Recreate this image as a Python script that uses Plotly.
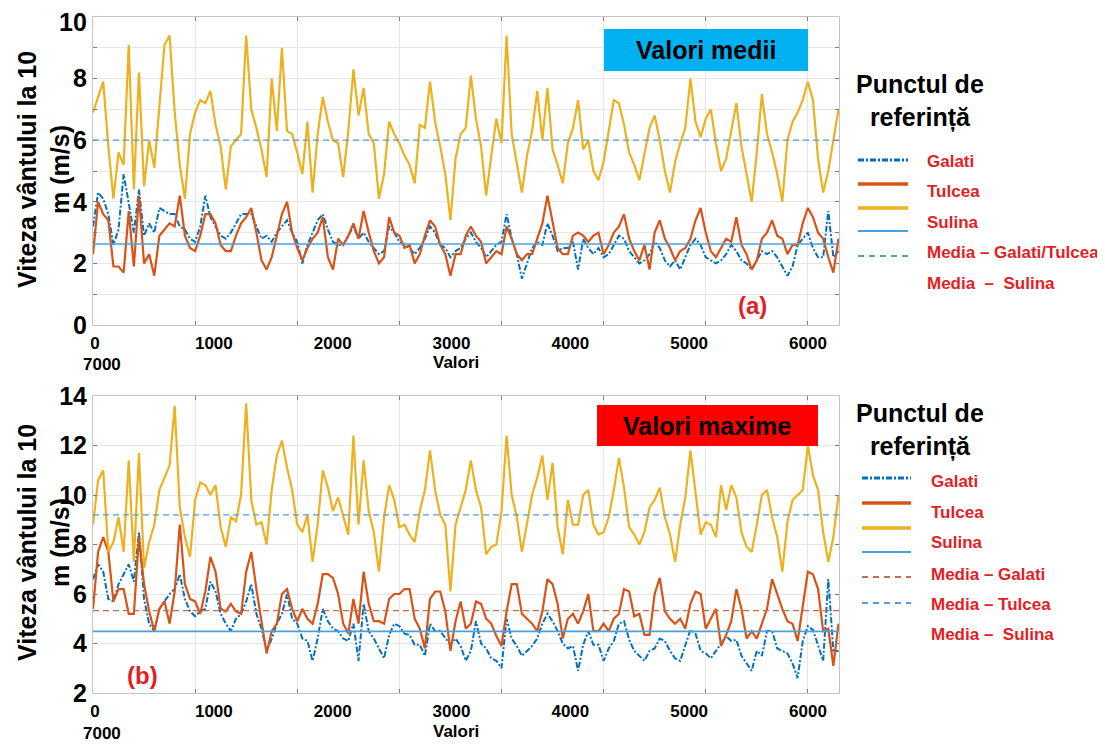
import plotly.graph_objects as go

# sample index (days), one reading every 50 values
DAYS = list(range(0, 7301, 50))

# (a) mean values
GALATI_MED = [
    3.2, 4.3, 4.1, 3.6, 2.6, 3.1, 4.9, 3.9, 3.0, 4.4,
    2.9, 3.3, 3.0, 3.8, 3.7, 3.6, 3.6, 3.2, 3.1, 2.8,
    2.7, 3.2, 4.2, 3.5, 3.2, 2.9, 2.8, 3.0, 3.3, 3.6,
    3.6, 3.6, 3.2, 2.8, 2.9, 2.7, 3.0, 3.2, 3.4, 3.0,
    2.7, 2.0, 2.6, 3.0, 3.4, 3.6, 3.1, 2.7, 2.6, 2.6,
    2.9, 3.2, 2.8, 3.0, 2.7, 2.5, 2.3, 2.4, 3.2, 3.0,
    2.7, 2.6, 2.5, 2.3, 2.5, 2.8, 3.2, 3.0, 2.6, 2.5,
    2.2, 2.4, 2.5, 2.8, 3.0, 2.7, 2.5, 2.2, 2.4, 2.6,
    2.7, 3.6, 2.8, 2.3, 1.5, 2.0, 2.5, 2.7, 2.6, 3.3,
    2.9, 2.4, 2.5, 2.5, 2.7, 1.8, 2.8, 2.5, 2.3, 2.5,
    2.2, 2.3, 2.6, 2.9, 2.8, 2.4, 2.2, 2.0, 2.1, 2.3,
    2.7, 2.5, 2.1, 1.9, 2.1, 1.8, 2.2, 2.6, 2.8, 2.6,
    2.2, 2.1, 2.0, 2.1, 2.3, 2.6, 2.4, 2.1, 2.0, 1.8,
    2.1, 2.4, 2.3, 2.4, 2.2, 1.9, 1.6, 1.9, 2.6, 2.8,
    3.0, 2.5, 2.2, 2.2, 3.7, 2.2, 2.4,
]
TULCEA_MED = [
    2.3, 4.0, 3.6, 3.4, 1.9, 1.9, 1.7, 3.7, 1.9, 4.2,
    2.0, 2.3, 1.6, 2.9, 3.1, 3.3, 3.2, 4.2, 2.9, 2.5,
    2.4, 2.9, 3.6, 3.6, 3.3, 2.6, 2.4, 2.4, 2.9, 3.3,
    3.5, 3.8, 3.0, 2.1, 1.8, 2.2, 2.9, 3.6, 4.0, 3.0,
    2.5, 2.1, 2.5, 2.8, 3.0, 3.5, 2.2, 1.8, 2.8, 2.6,
    2.9, 3.3, 2.8, 3.7, 3.0, 2.4, 2.0, 2.2, 3.5, 3.0,
    2.9, 2.5, 2.6, 2.0, 2.3, 2.9, 3.4, 3.2, 2.6, 2.3,
    1.6, 2.3, 2.3, 2.9, 3.2, 2.9, 2.7, 2.0, 2.2, 2.4,
    2.3, 3.2, 2.8, 2.3, 2.1, 2.3, 2.3, 2.8, 3.3, 4.2,
    3.4, 2.5, 2.3, 2.3, 2.9, 3.0, 2.9, 2.7, 2.9, 3.0,
    2.3, 2.6, 3.0, 3.2, 3.6, 2.8, 2.4, 2.1, 2.6, 1.8,
    3.0, 3.4, 2.8, 2.5, 2.1, 2.4, 2.5, 2.8, 3.4, 3.8,
    3.0, 2.4, 2.2, 2.5, 2.8, 2.7, 3.5, 2.6, 2.3, 1.8,
    2.1, 2.8, 3.0, 3.4, 2.9, 2.8, 2.3, 2.6, 2.6, 3.3,
    3.8, 3.5, 3.0, 2.8, 2.2, 1.7, 2.8,
]
SULINA_MED = [
    6.9, 7.4, 7.9, 5.8, 4.1, 5.6, 5.2, 9.1, 4.4, 8.2,
    4.5, 6.0, 5.1, 7.1, 9.1, 9.4, 6.9, 5.2, 4.1, 6.2,
    6.9, 7.3, 7.2, 7.6, 6.5, 5.8, 4.4, 5.8, 6.0, 6.2,
    9.4, 7.0, 6.4, 5.7, 4.8, 8.0, 6.3, 9.0, 6.3, 6.2,
    5.6, 4.9, 6.6, 4.3, 6.2, 7.4, 6.6, 6.0, 5.9, 4.8,
    6.3, 8.3, 6.8, 7.7, 6.2, 5.9, 4.1, 4.9, 6.6, 6.2,
    5.9, 5.5, 5.2, 4.6, 6.5, 6.4, 7.9, 6.6, 5.8, 4.9,
    3.4, 5.4, 6.2, 6.4, 8.1, 6.7, 5.8, 4.2, 5.5, 6.7,
    5.9, 9.4, 6.2, 5.3, 4.3, 5.5, 6.3, 7.6, 6.0, 7.7,
    5.7, 5.2, 4.6, 5.9, 6.4, 7.3, 5.7, 6.0, 5.0, 4.7,
    5.3, 6.3, 7.3, 7.2, 6.5, 5.6, 5.2, 4.7, 5.6, 6.4,
    6.8, 6.0, 5.0, 4.3, 5.3, 5.9, 6.4, 8.0, 6.6, 6.1,
    6.7, 7.0, 5.9, 5.0, 5.4, 6.3, 7.2, 5.8, 4.9, 4.0,
    5.6, 7.5, 6.2, 5.6, 4.9, 4.0, 6.0, 6.6, 6.9, 7.3,
    7.9, 7.3, 5.4, 4.3, 5.0, 6.0, 7.0,
]
MEAN_GT_MED = 2.63
MEAN_SULINA_MED = 6.0

# (b) maximum values
GALATI_MAX = [
    6.6, 7.2, 6.9, 5.8, 5.7, 6.4, 6.8, 7.2, 6.5, 8.5,
    5.8, 4.8, 4.5, 5.4, 5.7, 6.0, 6.2, 6.8, 5.8, 5.3,
    5.1, 5.3, 5.4, 6.5, 6.1, 5.2, 4.8, 4.5, 5.0, 5.2,
    5.7, 6.4, 5.2, 4.6, 3.7, 4.2, 4.8, 5.2, 6.0, 5.0,
    4.8, 4.2, 4.1, 3.3, 4.2, 5.4, 4.9, 4.6, 4.5, 4.2,
    4.1, 4.8, 3.3, 5.6, 4.5, 4.2, 3.8, 3.4, 4.35, 4.8,
    4.7, 4.4, 4.35, 3.95, 3.95, 3.5, 4.8, 4.5, 4.5, 4.2,
    3.95, 4.2, 3.9, 3.3, 3.7, 4.9, 4.0, 3.8, 3.4, 3.3,
    3.0, 5.0, 4.2, 3.9, 3.5, 3.7, 3.9, 4.2, 4.8, 5.2,
    4.9, 4.5, 4.0, 3.8, 3.9, 2.9, 3.95, 4.5, 3.95, 3.95,
    3.3, 3.8, 4.1, 4.8, 4.9, 4.15, 3.7, 3.5, 3.3, 3.7,
    3.8, 4.2, 4.1, 3.7, 3.4, 3.3, 3.95, 4.55, 4.4, 3.7,
    3.6, 3.4, 3.7, 4.0, 4.3, 4.1, 4.15, 3.5, 3.2, 2.9,
    3.7, 3.5, 4.5, 4.5, 3.8, 3.7, 3.6, 3.2, 2.6, 4.1,
    4.7, 4.55, 3.95, 3.3, 6.6, 3.7, 3.7,
]
TULCEA_MAX = [
    5.4, 7.7, 8.3, 7.7, 5.7, 6.2, 6.2, 5.2, 5.2, 8.3,
    6.4, 5.3, 4.5, 5.4, 5.7, 4.8, 6.1, 8.8, 6.4, 5.8,
    5.7, 5.2, 6.1, 7.5, 6.9, 5.4, 5.3, 5.6, 5.3, 5.2,
    6.9, 7.7, 6.2, 4.8, 3.6, 4.5, 4.8, 6.0, 6.2, 5.4,
    4.9, 5.4, 5.0, 4.8, 5.6, 6.8, 6.8, 6.65, 6.0, 4.8,
    4.4, 5.8, 4.8, 6.9, 5.6, 4.9, 4.9, 4.8, 5.8, 6.0,
    6.0, 6.2, 6.2, 5.0, 4.6, 3.8, 5.8, 6.1, 6.1, 5.3,
    3.7, 4.9, 5.7, 4.6, 4.8, 5.7, 5.6, 5.0, 4.8, 4.3,
    3.9, 5.3, 6.4, 6.4, 5.2, 5.0, 4.8, 4.5, 5.3, 6.6,
    6.4, 5.6, 4.2, 5.0, 5.2, 4.8, 5.3, 6.0, 4.5, 4.5,
    4.8, 4.5, 5.0, 5.2, 6.2, 6.1, 5.1, 5.2, 4.35, 4.35,
    6.0, 6.65, 5.3, 5.0, 4.8, 5.0, 4.6, 5.6, 6.1, 6.0,
    4.6, 5.0, 5.4, 3.9, 4.35, 4.9, 6.2, 5.4, 4.2, 4.5,
    4.2, 4.8, 5.4, 6.6, 6.0, 5.4, 4.9, 4.8, 4.1, 5.6,
    6.9, 6.8, 6.2, 4.5, 4.6, 3.1, 4.8,
]
SULINA_MAX = [
    8.8, 10.6, 11.0, 7.7, 8.1, 9.1, 7.7, 11.4, 7.3, 11.7,
    7.05, 8.1, 8.8, 10.2, 10.7, 11.2, 13.6, 9.5, 8.3, 7.5,
    9.8, 10.5, 10.4, 10.0, 10.4, 8.7, 7.9, 9.1, 8.95, 10.0,
    13.7, 9.8, 8.8, 8.9, 8.0, 10.2, 11.6, 12.2, 11.1, 10.2,
    8.8, 8.5, 9.2, 7.3, 8.8, 11.0, 10.3, 9.35, 9.9, 9.1,
    8.4, 12.4, 8.8, 11.4, 9.35, 8.5, 6.9, 9.1, 10.4, 9.8,
    8.7, 8.8, 8.4, 8.1, 9.35, 10.2, 11.8, 10.2, 9.2, 8.8,
    6.1, 8.8, 9.5, 10.2, 11.4, 10.2, 9.5, 7.6, 7.9, 8.0,
    9.35, 12.4, 10.0, 9.1, 7.7, 8.8, 10.0, 10.7, 11.6, 9.8,
    11.3, 8.7, 7.6, 9.8, 8.8, 8.8, 10.0, 10.2, 8.8, 8.4,
    8.5, 9.1, 10.2, 11.5, 10.3, 8.7, 8.4, 8.0, 8.5, 9.5,
    9.8, 10.3, 9.1, 8.4, 7.3, 8.8, 9.9, 11.8, 10.0, 8.4,
    8.9, 8.8, 8.3, 10.4, 9.4, 10.4, 9.9, 8.5, 7.9, 7.7,
    8.8, 10.0, 10.2, 9.1, 8.3, 6.9, 8.9, 9.8, 10.0, 10.2,
    12.0, 10.8, 10.2, 8.5, 7.3, 8.3, 10.0,
]
MEAN_SULINA_MAX = 9.2
MEAN_TULCEA_MAX = 5.33
MEAN_GALATI_MAX = 4.49

X_END = 7305
LABEL_TICKS = [0, 1000, 2000, 3000, 4000, 5000, 6000]

# page body has an 8px margin, so the figure is laid out in page pixels minus it
OFF = 8
W, H = 1105 - OFF, 745 - OFF
FONT = "Liberation Sans, Arial, sans-serif"
RED_TXT = "#E31E24"
C_GAL = "#0072BD"
C_TUL = "#D95319"
C_SUL = "#EDB120"
C_MEAN = "#4D9FDB"
C_MEAN_D = "#5B9BD5"
C_BROWN = "#C0704F"


def px(x):
    return (x - OFF) / W


def py(y):
    return 1 - (y - OFF) / H


def note(text, x, y, size, color="black", xanchor="center", angle=0):
    return dict(text=text, x=px(x), y=py(y), xref="paper", yref="paper",
                xanchor=xanchor, yanchor="middle", showarrow=False, textangle=angle,
                font=dict(family=FONT, size=size, color=color, weight="bold"))


fig = go.Figure()

# top panel series
fig.add_trace(go.Scatter(x=DAYS, y=GALATI_MED, mode="lines", xaxis="x", yaxis="y",
                         line=dict(color=C_GAL, width=2, dash="6px,2px,2px,2px")))
fig.add_trace(go.Scatter(x=DAYS, y=TULCEA_MED, mode="lines", xaxis="x", yaxis="y",
                         line=dict(color=C_TUL, width=2.2)))
fig.add_trace(go.Scatter(x=DAYS, y=SULINA_MED, mode="lines", xaxis="x", yaxis="y",
                         line=dict(color=C_SUL, width=2.2)))
fig.add_trace(go.Scatter(x=[0, X_END], y=[MEAN_GT_MED] * 2, mode="lines", xaxis="x", yaxis="y",
                         line=dict(color=C_MEAN, width=1.6)))
fig.add_trace(go.Scatter(x=[0, X_END], y=[MEAN_SULINA_MED] * 2, mode="lines", xaxis="x", yaxis="y",
                         line=dict(color=C_MEAN_D, width=1.3, dash="6px,4px")))

# bottom panel series
fig.add_trace(go.Scatter(x=DAYS, y=GALATI_MAX, mode="lines", xaxis="x3", yaxis="y2",
                         line=dict(color=C_GAL, width=2, dash="6px,2px,2px,2px")))
fig.add_trace(go.Scatter(x=DAYS, y=TULCEA_MAX, mode="lines", xaxis="x3", yaxis="y2",
                         line=dict(color=C_TUL, width=2.2)))
fig.add_trace(go.Scatter(x=DAYS, y=SULINA_MAX, mode="lines", xaxis="x3", yaxis="y2",
                         line=dict(color=C_SUL, width=2.2)))
fig.add_trace(go.Scatter(x=[0, X_END], y=[MEAN_GALATI_MAX] * 2, mode="lines", xaxis="x3", yaxis="y2",
                         line=dict(color=C_MEAN, width=1.6)))
fig.add_trace(go.Scatter(x=[0, X_END], y=[MEAN_TULCEA_MAX] * 2, mode="lines", xaxis="x3", yaxis="y2",
                         line=dict(color=C_BROWN, width=1.3, dash="6px,4px")))
fig.add_trace(go.Scatter(x=[0, X_END], y=[MEAN_SULINA_MAX] * 2, mode="lines", xaxis="x3", yaxis="y2",
                         line=dict(color=C_MEAN_D, width=1.3, dash="6px,4px")))

# empty traces so the label axes get drawn
fig.add_trace(go.Scatter(x=[], y=[], xaxis="x2", yaxis="y", hoverinfo="skip"))
fig.add_trace(go.Scatter(x=[], y=[], xaxis="x4", yaxis="y2", hoverinfo="skip"))

dom_x = [px(93), px(839)]
main_x = dict(domain=dom_x, range=[0, X_END], tick0=0, dtick=1000, showticklabels=False,
              showgrid=True, gridcolor="#E6E6E6", zeroline=False, automargin=False,
              showline=True, linecolor="#C4C4C4", linewidth=1, mirror="ticks",
              ticks="inside", ticklen=4, tickcolor="#808080")
label_x = dict(range=[-17, 6261], tickvals=LABEL_TICKS, showgrid=False, zeroline=False,
               showline=False, ticks="outside", ticklen=3, tickcolor="rgba(0,0,0,0)",
               automargin=False, ticklabeloverflow="allow",
               tickfont=dict(family=FONT, size=17, color="black", weight="bold"))
ytick_font = dict(family=FONT, size=25, color="black", weight="bold")
main_y = dict(showgrid=True, gridcolor="#E6E6E6", zeroline=False, automargin=False,
              showline=True, linecolor="#C4C4C4", linewidth=1, mirror="ticks",
              ticks="inside", ticklen=4, tickcolor="#808080", tickfont=ytick_font,
              ticklabeloverflow="allow")

# top label "10" sits a little lower in the original, it is written separately
top_ticks = list(range(0, 11))
top_text = [str(v) if v % 2 == 0 and v < 10 else "" for v in top_ticks]

fig.update_layout(
    width=W, height=H, margin=dict(l=0, r=0, t=0, b=0, pad=0),
    paper_bgcolor="white", plot_bgcolor="white", showlegend=False,
    font=dict(family=FONT),
    xaxis=dict(main_x, anchor="y"),
    xaxis2=dict(label_x, overlaying="x", anchor="y", side="bottom"),
    yaxis=dict(main_y, domain=[py(325), py(17)], range=[0, 10], anchor="x",
               tickvals=top_ticks, ticktext=top_text),
    xaxis3=dict(main_x, anchor="y2"),
    xaxis4=dict(label_x, overlaying="x3", anchor="y2", side="bottom"),
    yaxis2=dict(main_y, domain=[py(693), py(396)], range=[2, 14], anchor="x3",
                tick0=2, dtick=2),
)

ann = []
shapes = []

ann.append(note("10", 89, 22, 25, xanchor="right"))

# y-axis titles
for yc in (170, 543):
    ann.append(note("Viteza vântului la 10<br>m (m/s)", 43, yc, 25, angle=-90))

# x-axis title and the stray 7000 label
for y_val, y_7000 in ((363, 364), (731, 733)):
    ann.append(note("Valori", 456, y_val, 17))
    ann.append(note("7000", 102, y_7000, 17))

# panel boxes
shapes.append(dict(type="rect", xref="paper", yref="paper", x0=px(604), x1=px(808),
                   y0=py(71), y1=py(29), fillcolor="#00B0F0", line=dict(width=0), layer="above"))
ann.append(note("Valori medii", 706, 50, 25))
shapes.append(dict(type="rect", xref="paper", yref="paper", x0=px(597), x1=px(818),
                   y0=py(446), y1=py(405), fillcolor="#FF0000", line=dict(width=0), layer="above"))
ann.append(note("Valori maxime", 707, 426, 25))

# panel letters
ann.append(note("(a)", 752, 305, 24, RED_TXT))
ann.append(note("(b)", 142, 675, 24, RED_TXT))

# legend blocks
for yc in (101, 430):
    ann.append(note("Punctul de<br>referință", 920, yc, 25))

legend_top_lines = [
    (160, C_GAL, 3, "6px,2px,2px,2px"),
    (184, C_TUL, 3.5, "solid"),
    (208, C_SUL, 3.5, "solid"),
    (231, C_MEAN, 2, "solid"),
    (256, C_MEAN_D, 2, "6px,5px"),
]
legend_top_text = [(161, "Galati"), (192, "Tulcea"), (222, "Sulina"),
                   (253, "Media – Galati/Tulcea"), (283, "Media  –  Sulina")]
legend_bot_lines = [
    (478, C_GAL, 3, "6px,2px,2px,2px"),
    (503, C_TUL, 3.5, "solid"),
    (528, C_SUL, 3.5, "solid"),
    (552, C_MEAN, 2, "solid"),
    (577, C_BROWN, 2, "6px,5px"),
    (603, C_MEAN_D, 2, "6px,5px"),
]
legend_bot_text = [(482, "Galati"), (512, "Tulcea"), (542, "Sulina"),
                   (574, "Media – Galati"), (604, "Media – Tulcea"), (634, "Media –  Sulina")]

for (lines, x0, x1) in ((legend_top_lines, 858, 908), (legend_bot_lines, 862, 911)):
    for yl, col, wd, ds in lines:
        shapes.append(dict(type="line", xref="paper", yref="paper", x0=px(x0), x1=px(x1),
                           y0=py(yl), y1=py(yl), line=dict(color=col, width=wd, dash=ds)))
for (texts, xt) in ((legend_top_text, 925), (legend_bot_text, 929)):
    for yt, t in texts:
        ann.append(note(t, xt, yt, 17, RED_TXT, xanchor="left"))

fig.update_layout(annotations=ann, shapes=shapes)
fig.write_html("out.html")
